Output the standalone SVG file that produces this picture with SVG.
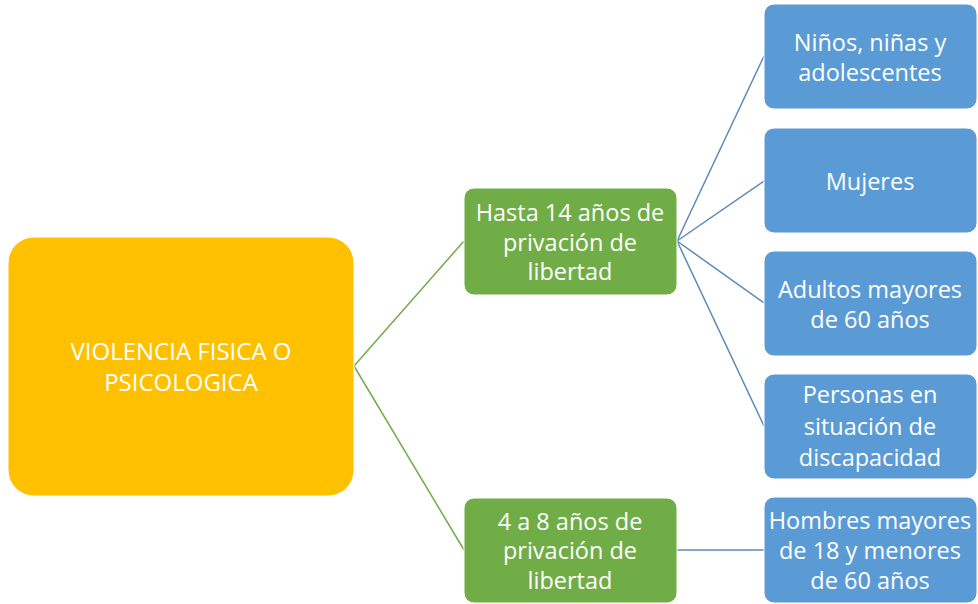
<svg xmlns="http://www.w3.org/2000/svg" width="978" height="604" viewBox="0 0 978 604">
<style>
.main{fill:#FFC000;stroke:#ffffff;stroke-width:1}
.green{fill:#70AD47;stroke:#ffffff;stroke-width:1}
.blue{fill:#5B9BD5;stroke:#ffffff;stroke-width:1}
text{font-family:"Open Sans","Liberation Sans",sans-serif;fill:#ffffff;text-anchor:middle}
.t1{font-size:24px}
.t2{font-size:23.5px}
.gl{stroke:#70AD47;stroke-width:1.5;fill:none}
.bl{stroke:#5B89B8;stroke-width:1.5;fill:none}
</style>
<rect width="978" height="604" fill="#ffffff"/>
<g id="connectors">
<line class="gl" x1="354" y1="366" x2="464" y2="241"/>
<line class="gl" x1="354" y1="366" x2="464" y2="550"/>
<line class="bl" x1="677" y1="241" x2="764" y2="56"/>
<line class="bl" x1="677" y1="241" x2="764" y2="181"/>
<line class="bl" x1="677" y1="241" x2="764" y2="303"/>
<line class="bl" x1="677" y1="241" x2="764" y2="426"/>
<line class="bl" x1="677" y1="550" x2="764" y2="550"/>
</g>
<g id="n-main">
<rect class="main" x="8" y="237" width="346" height="259" rx="26"/>
<text class="t1" x="181" y="360">VIOLENCIA FISICA O</text>
<text class="t1" x="181" y="391">PSICOLOGICA</text>
</g>
<g id="n-hasta14">
<rect class="green" x="464" y="188" width="213" height="107" rx="10"/>
<text class="t2" x="570" y="221">Hasta 14 años de</text>
<text class="t2" x="570" y="251">privación de</text>
<text class="t2" x="570" y="280">libertad</text>
</g>
<g id="n-4a8">
<rect class="green" x="464" y="498" width="213" height="105" rx="10"/>
<text class="t2" x="570" y="530">4 a 8 años de</text>
<text class="t2" x="570" y="559">privación de</text>
<text class="t2" x="570" y="589">libertad</text>
</g>
<g id="n-ninos">
<rect class="blue" x="764" y="4" width="213" height="105" rx="10"/>
<text class="t2" x="870" y="51">Niños, niñas y</text>
<text class="t2" x="870" y="81">adolescentes</text>
</g>
<g id="n-mujeres">
<rect class="blue" x="764" y="128" width="213" height="105" rx="10"/>
<text class="t2" x="870" y="190">Mujeres</text>
</g>
<g id="n-adultos">
<rect class="blue" x="764" y="251" width="213" height="105" rx="10"/>
<text class="t2" x="870" y="298">Adultos mayores</text>
<text class="t2" x="870" y="328">de 60 años</text>
</g>
<g id="n-personas">
<rect class="blue" x="764" y="374" width="213" height="105" rx="10"/>
<text class="t2" x="870" y="403">Personas en</text>
<text class="t2" x="870" y="435">situación de</text>
<text class="t2" x="870" y="466">discapacidad</text>
</g>
<g id="n-hombres">
<rect class="blue" x="764" y="497" width="213" height="106" rx="10"/>
<text class="t2" x="870" y="529">Hombres mayores</text>
<text class="t2" x="870" y="559">de 18 y menores</text>
<text class="t2" x="870" y="589">de 60 años</text>
</g>
</svg>
